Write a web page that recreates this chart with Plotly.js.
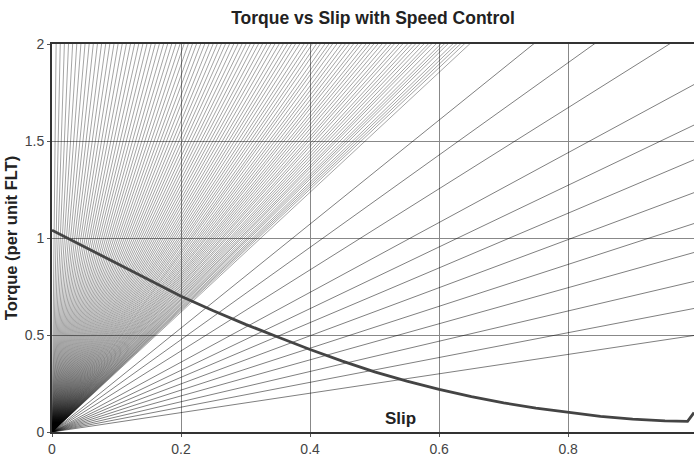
<!DOCTYPE html>
<html>
<head>
<meta charset="utf-8">
<script src="https://cdn.plot.ly/plotly-3.0.1.min.js"></script>
<style>html,body{margin:0;padding:0;background:#fff;overflow:hidden;}#chart{width:694px;height:456px;}</style>
</head>
<body>
<div id="chart"></div>
<script>
// Load lines: per-unit torque each line would reach at slip = 1.0 (slope of torque vs slip)
const denseLineSlopes = [312.5, 156.25, 104.17, 78.13, 62.5, 52.08, 44.64, 39.06, 34.72, 31.25,
  28.41, 26.04, 24.04, 22.32, 20.83, 19.53, 18.38, 17.36, 16.45, 15.63,
  14.88, 14.20, 13.59, 13.02, 12.5, 12.02, 11.57, 11.16, 10.78, 10.42,
  10.08, 9.77, 9.47, 9.19, 8.93, 8.68, 8.45, 8.22, 8.01, 7.81,
  7.62, 7.44, 7.27, 7.10, 6.94, 6.79, 6.65, 6.51, 6.38, 6.25,
  6.13, 6.01, 5.90, 5.79, 5.68, 5.58, 5.48, 5.39, 5.30, 5.21,
  5.12, 5.04, 4.96, 4.88, 4.81, 4.73, 4.66, 4.60, 4.53, 4.46,
  4.40, 4.34, 4.28, 4.22, 4.17, 4.11, 4.06, 4.01, 3.96, 3.91,
  3.86, 3.81, 3.77, 3.72, 3.68, 3.63, 3.59, 3.55, 3.51, 3.47,
  3.43, 3.40, 3.36, 3.32, 3.29, 3.26, 3.22, 3.19, 3.16, 3.13, 3.09];
const sparseLineSlopes = [2.68, 2.38, 2.09, 1.80, 1.59, 1.41, 1.24, 1.08, 0.93, 0.78, 0.64, 0.50];
const lineSlipEnds = [0, 1];

// Motor torque curve
const curveSlip   = [0, 0.05, 0.1, 0.15, 0.2, 0.25, 0.3, 0.35, 0.4, 0.45, 0.5, 0.55, 0.6, 0.65, 0.7, 0.75, 0.8, 0.85, 0.9, 0.95, 0.985, 0.995];
const curveTorque = [1.04, 0.955, 0.87, 0.785, 0.70, 0.625, 0.555, 0.49, 0.425, 0.365, 0.31, 0.262, 0.22, 0.182, 0.15, 0.123, 0.10, 0.08, 0.066, 0.057, 0.055, 0.10];

const xTickVals = [0, 0.2, 0.4, 0.6, 0.8];
const xTickText = ['0', '0.2', '0.4', '0.6', '0.8'];
const yTickVals = [0, 0.5, 1, 1.5, 2];
const yTickText = ['0', '0.5', '1', '1.5', '2'];

const traces = [];
denseLineSlopes.forEach(k => traces.push({
  x: lineSlipEnds, y: lineSlipEnds.map(s => s * k), mode: 'lines', type: 'scatter',
  line: {color: 'rgba(0,0,0,0.4)', width: 0.9}, hoverinfo: 'skip', showlegend: false
}));
sparseLineSlopes.forEach(k => traces.push({
  x: lineSlipEnds, y: lineSlipEnds.map(s => s * k), mode: 'lines', type: 'scatter',
  line: {color: 'rgba(0,0,0,0.5)', width: 1}, hoverinfo: 'skip', showlegend: false
}));
traces.push({
  x: curveSlip, y: curveTorque, mode: 'lines', type: 'scatter',
  line: {color: '#444', width: 2.8}, showlegend: false
});

const FONT = 'Liberation Sans, Arial, sans-serif';
const layout = {
  width: 694, height: 456,
  margin: {l: 52, r: 0, t: 44, b: 24},
  paper_bgcolor: '#fff', plot_bgcolor: '#fff',
  font: {family: FONT, color: '#444', size: 14},
  title: {text: '<b>Torque vs Slip with Speed Control</b>', font: {family: FONT, size: 17.5, color: '#222'},
          x: 0.5, xref: 'paper', xanchor: 'center', y: 0.96, yref: 'container', yanchor: 'middle'},
  xaxis: {range: [0, 0.995], tickvals: xTickVals, ticktext: xTickText, showgrid: true, gridcolor: '#888', gridwidth: 1,
          zeroline: false, showline: true, mirror: true, linecolor: '#333', linewidth: 2,
          ticks: 'outside', ticklen: 3, tickcolor: '#555', tickfont: {family: FONT, size: 14, color: '#444'}},
  yaxis: {range: [0, 2], tickvals: yTickVals, ticktext: yTickText, showgrid: true, gridcolor: '#888', gridwidth: 1,
          zeroline: false, showline: true, mirror: true, linecolor: '#333', linewidth: 2,
          ticks: 'outside', ticklen: 3, tickcolor: '#555', tickfont: {family: FONT, size: 14, color: '#444'},
          title: {text: '<b>Torque (per unit FLT)</b>', font: {family: FONT, size: 16.5, color: '#222'}, standoff: 3}},
  annotations: [{text: '<b>Slip</b>', x: 0.54, y: 0.072, xref: 'x', yref: 'y', showarrow: false,
                 font: {family: FONT, size: 17, color: '#222'}}]
};
Plotly.newPlot('chart', traces, layout, {displayModeBar: false, staticPlot: true});
</script>
</body>
</html>
